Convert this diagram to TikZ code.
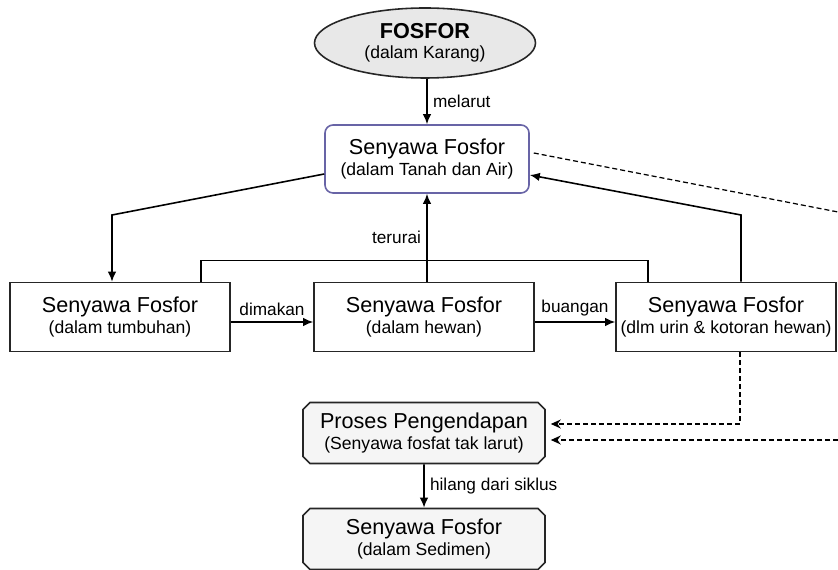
\documentclass[tikz,border=0pt]{standalone}
\usepackage{fontspec}
\setmainfont{Liberation Sans}
\usetikzlibrary{shapes.geometric,shapes.misc,arrows.meta,calc}
\definecolor{soilblue}{RGB}{104,100,166}
\definecolor{rockgray}{RGB}{232,232,232}
\definecolor{sedgray}{RGB}{245,245,245}
\newcommand{\toptext}[1]{{\fontsize{12.3}{14}\selectfont #1}}
\tikzset{
  stage/.style={rectangle, draw=black!85, line width=0.9pt, fill=white,
                minimum width=4.4cm, minimum height=1.38cm, inner sep=0pt,
                align=center, font=\fontsize{10}{11.4}\selectfont},
  pool/.style={stage, rounded corners=1.6mm, draw=soilblue,
               minimum width=4.08cm, minimum height=1.36cm},
  source/.style={ellipse, draw=black!85, fill=rockgray, line width=0.9pt,
                 minimum width=4.42cm, minimum height=1.4cm, inner sep=0pt,
                 align=center, font=\fontsize{10}{11.4}\selectfont},
  sink/.style={chamfered rectangle, chamfered rectangle xsep=0.7mm,
               chamfered rectangle ysep=0.7mm, draw=black!85, fill=sedgray,
               line width=0.9pt, minimum width=4.84cm, minimum height=1.22cm,
               inner sep=0pt, align=center, font=\fontsize{10}{11.4}\selectfont},
  flow/.style={-{Latex[length=2mm,width=1.7mm]}, line width=0.9pt},
  lossline/.style={line width=0.7pt, dash pattern=on 1mm off 0.6mm},
  loss/.style={lossline, -{Stealth[length=2mm,width=1.8mm]}},
  tag/.style={font=\fontsize{9.8}{11}\selectfont, inner sep=3pt}
}
\begin{document}
\begin{tikzpicture}[x=0.2mm, y=-0.2mm]
\useasboundingbox (0,0) rectangle (838,570);
% nodes
\node[source] (rock) at (425,43) {\toptext{\textbf{FOSFOR}}\\(dalam Karang)};
\node[pool] (soil) at (427,159) {\toptext{Senyawa Fosfor}\\(dalam Tanah dan Air)};
\node[stage] (plant) at (120,317) {\toptext{Senyawa Fosfor}\\(dalam tumbuhan)};
\node[stage] (animal) at (424,317) {\toptext{Senyawa Fosfor}\\(dalam hewan)};
\node[stage] (waste) at (726,317) {\toptext{Senyawa Fosfor}\\(dlm urin \& kotoran hewan)};
\node[sink] (settle) at (424,433) {\toptext{Proses Pengendapan}\\(Senyawa fosfat tak larut)};
\node[sink] (sediment) at (424,539) {\toptext{Senyawa Fosfor}\\(dalam Sedimen)};
% cycle
\draw[flow] (rock.south -| soil) -- node[tag, right]{melarut} (soil.north);
\draw[flow] (animal.north -| soil) -- node[tag, left]{terurai} (soil.south);
\draw[line width=0.9pt] ($(plant.north)+(81,0)$) -- ++(0,-21) -| ($(waste.north)+(-78,0)$);
\coordinate (leftbend) at (112,215);
\draw[flow] ($(soil.west)+(0,15)$) -- (leftbend) -- (leftbend |- plant.north);
\coordinate (rightbend) at (741,215);
\draw[flow] (rightbend |- waste.north) -- (rightbend) -- ($(soil.east)+(0,16)$);
\draw[flow] ($(plant.east)+(0,5)$) -- node[tag, above]{dimakan} ($(animal.west)+(0,5)$);
\draw[flow] ($(animal.east)+(0,5)$) -- node[tag, above]{buangan} ($(waste.west)+(0,5)$);
% loss to sediment
\draw[flow] (settle) -- node[tag, right]{hilang dari siklus} (sediment);
\coordinate (edgeup) at (838,212);
\coordinate (edgedown) at (838,440);
\coordinate (dropbend) at (740,424);
\draw[lossline] ($(soil.east)+(4,-6)$) -- (edgeup);
\draw[loss] (edgedown) -- ($(settle.east)+(5,7)$);
\draw[loss] (dropbend |- waste.south) -- (dropbend) -- ($(settle.east)+(5,-9)$);
\end{tikzpicture}
\end{document}
